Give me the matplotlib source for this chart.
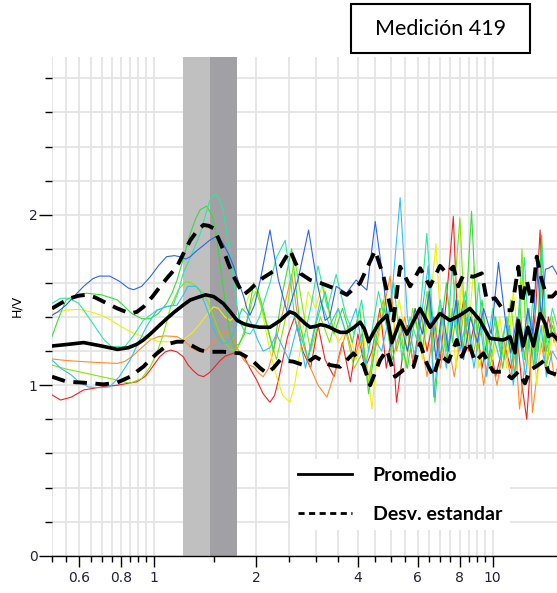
import numpy as np
import matplotlib.pyplot as plt
from matplotlib.ticker import NullFormatter
from matplotlib.patches import Rectangle
from matplotlib.lines import Line2D

# ---------------- datos (frecuencia Hz, H/V) ----------------
promedio = [(0.5, 1.23), (0.56, 1.24), (0.62, 1.25), (0.7, 1.23), (0.78, 1.21), (0.84, 1.22),
            (0.89, 1.24), (0.93, 1.265), (0.975, 1.30), (1.03, 1.345), (1.09, 1.39), (1.15, 1.43),
            (1.22, 1.47), (1.28, 1.50), (1.37, 1.52), (1.42, 1.53), (1.50, 1.52), (1.55, 1.50),
            (1.60, 1.48), (1.68, 1.43), (1.76, 1.38), (1.84, 1.36), (1.92, 1.35), (2.05, 1.34),
            (2.2, 1.34), (2.28, 1.36), (2.36, 1.38), (2.45, 1.41), (2.52, 1.43), (2.6, 1.42),
            (2.7, 1.39), (2.8, 1.36), (2.89, 1.34), (3.0, 1.345), (3.1, 1.355), (3.2, 1.35),
            (3.3, 1.34), (3.45, 1.32), (3.55, 1.31), (3.7, 1.31), (3.9, 1.34), (4.06, 1.37),
            (4.18, 1.33), (4.3, 1.255), (4.45, 1.31), (4.6, 1.36), (4.87, 1.41), (5.04, 1.25),
            (5.33, 1.38), (5.58, 1.30), (6.1, 1.45), (6.53, 1.34), (6.99, 1.42), (7.48, 1.38),
            (8.0, 1.41), (8.57, 1.45), (9.17, 1.38), (9.8, 1.275), (10.75, 1.265), (11.25, 1.285),
            (11.64, 1.19), (11.9, 1.38), (12.3, 1.23), (12.7, 1.34), (13.2, 1.23), (13.8, 1.42),
            (14.3, 1.36), (14.6, 1.285), (15.0, 1.30), (15.5, 1.27)]

desv_sup = [(0.5, 1.45), (0.53, 1.48), (0.566, 1.51), (0.6, 1.525), (0.634, 1.53), (0.67, 1.515),
            (0.71, 1.49), (0.78, 1.45), (0.851, 1.42), (0.89, 1.43), (0.932, 1.46), (0.99, 1.52),
            (1.044, 1.58), (1.1, 1.635), (1.169, 1.695), (1.22, 1.77), (1.28, 1.85), (1.34, 1.905),
            (1.40, 1.94), (1.45, 1.935), (1.50, 1.92), (1.55, 1.86), (1.605, 1.79), (1.66, 1.71),
            (1.717, 1.64), (1.78, 1.58), (1.838, 1.53), (1.92, 1.56), (2.013, 1.60), (2.1, 1.63),
            (2.203, 1.656), (2.358, 1.695), (2.45, 1.75), (2.525, 1.79), (2.6, 1.73), (2.702, 1.656),
            (2.892, 1.617), (3.095, 1.60), (3.388, 1.57), (3.71, 1.53), (4.061, 1.60), (4.496, 1.79),
            (4.757, 1.64), (5.092, 1.38), (5.328, 1.695), (5.702, 1.58), (6.104, 1.686), (6.531, 1.58),
            (6.99, 1.70), (7.316, 1.656), (7.652, 1.695), (7.915, 1.58), (8.188, 1.646), (8.767, 1.636),
            (9.281, 1.656), (9.601, 1.50), (10.16, 1.51), (10.75, 1.44), (11.38, 1.44), (11.9, 1.695),
            (12.18, 1.48), (12.6, 1.617), (13.03, 1.48), (13.49, 1.754), (13.95, 1.617), (14.43, 1.52),
            (15.0, 1.52), (15.5, 1.55)]

desv_inf = [(0.5, 1.05), (0.554, 1.02), (0.62, 1.015), (0.71, 1.005), (0.778, 1.015), (0.851, 1.05),
            (0.89, 1.08), (0.932, 1.11), (0.975, 1.15), (1.021, 1.187), (1.07, 1.22), (1.117, 1.245),
            (1.17, 1.255), (1.223, 1.255), (1.3, 1.23), (1.369, 1.206), (1.434, 1.196), (1.605, 1.196),
            (1.797, 1.187), (1.88, 1.165), (1.967, 1.138), (2.06, 1.10), (2.154, 1.07), (2.25, 1.10),
            (2.358, 1.148), (2.581, 1.138), (2.763, 1.118), (2.991, 1.167), (3.313, 1.118),
            (3.545, 1.108), (3.88, 1.187), (4.153, 1.118), (4.346, 1.00), (4.652, 1.148), (4.868, 1.206),
            (5.15, 1.05), (5.449, 1.089), (5.833, 1.108), (6.104, 1.245), (6.389, 1.128), (6.682, 1.05),
            (6.99, 1.177), (7.396, 1.138), (7.831, 1.265), (8.101, 1.167), (8.472, 1.255), (8.867, 1.138),
            (9.382, 1.187), (10.04, 1.079), (10.75, 1.079), (11.38, 1.04), (11.9, 1.079), (12.45, 1.011),
            (12.9, 1.089), (13.63, 1.118), (14.27, 1.148), (14.59, 1.079), (15.0, 1.07), (15.5, 1.06)]

v_rojo = [(0.5, 0.943), (0.53, 0.913), (0.57, 0.93), (0.62, 0.972), (0.7, 0.99), (0.78, 1.00),
          (0.89, 1.02), (0.94, 1.05), (0.975, 1.089), (1.04, 1.167), (1.08, 1.195), (1.12, 1.206),
          (1.17, 1.195), (1.22, 1.167), (1.26, 1.12), (1.30, 1.089), (1.35, 1.06), (1.40, 1.05),
          (1.45, 1.07), (1.50, 1.10), (1.56, 1.14), (1.62, 1.17), (1.73, 1.19), (1.79, 1.185),
          (1.84, 1.17), (1.92, 1.10), (2.01, 1.03), (2.1, 0.95), (2.20, 0.90), (2.27, 0.94),
          (2.33, 1.03), (2.4, 1.15), (2.48, 1.285), (2.6, 1.40), (2.75, 1.20), (2.9, 1.10), (3.05, 1.35),
          (3.2, 1.15), (3.4, 1.05), (3.6, 1.25), (3.8, 1.02), (4.0, 1.30), (4.2, 1.10), (4.4, 1.20),
          (4.65, 1.45), (4.85, 1.10), (5.05, 1.30), (5.2, 0.90), (5.4, 1.15), (5.6, 1.35), (5.85, 1.10),
          (6.1, 1.45), (6.4, 1.20), (6.7, 1.40), (7.0, 1.15), (7.3, 1.50), (7.65, 1.99), (7.9, 1.30),
          (8.2, 1.50), (8.5, 1.20), (8.9, 1.40), (9.3, 1.10), (9.7, 1.30), (10.2, 1.05), (10.8, 1.25),
          (11.3, 1.10), (11.8, 1.30), (12.2, 1.00), (12.6, 0.80), (13.0, 1.20), (13.4, 1.45),
          (13.8, 1.91), (14.2, 1.20), (14.6, 1.40), (15.2, 1.25), (15.5, 1.30)]

v_naranja = [(0.5, 1.154), (0.55, 1.145), (0.62, 1.138), (0.7, 1.132), (0.78, 1.128), (0.82, 1.14),
             (0.86, 1.167), (0.92, 1.22), (0.975, 1.265), (1.03, 1.285), (1.08, 1.289), (1.17, 1.285),
             (1.23, 1.26), (1.28, 1.226), (1.33, 1.205), (1.37, 1.196), (1.41, 1.20), (1.45, 1.22),
             (1.52, 1.27), (1.56, 1.30), (1.60, 1.314), (1.66, 1.30), (1.72, 1.265), (1.78, 1.20),
             (1.84, 1.148), (1.9, 1.12), (1.97, 1.108), (2.04, 1.07), (2.1, 1.05), (2.18, 1.10),
             (2.25, 1.20), (2.45, 1.50), (2.55, 1.65), (2.7, 1.30), (2.9, 1.10), (3.05, 1.00),
             (3.24, 0.93), (3.45, 1.10), (3.7, 1.32), (3.9, 1.15), (4.1, 1.30), (4.3, 1.05), (4.55, 1.25),
             (4.98, 1.64), (5.2, 1.20), (5.5, 1.40), (5.8, 1.15), (6.1, 1.30), (6.4, 1.05), (6.7, 1.35),
             (7.0, 1.10), (7.3, 1.30), (7.7, 1.05), (8.0, 1.25), (8.3, 1.50), (8.7, 1.15), (9.0, 1.30),
             (9.4, 1.00), (9.8, 1.20), (10.3, 1.00), (10.8, 1.25), (11.3, 1.05), (11.7, 1.20),
             (12.0, 0.86), (12.4, 1.10), (12.8, 1.30), (13.1, 0.84), (13.5, 1.05), (13.9, 1.25),
             (14.3, 1.10), (14.8, 1.20), (15.2, 1.05), (15.5, 1.10)]

v_amarillo = [(0.5, 1.42), (0.55, 1.44), (0.6, 1.445), (0.65, 1.43), (0.7, 1.41), (0.75, 1.38),
              (0.8, 1.343), (0.86, 1.31), (0.93, 1.285), (1.04, 1.255), (1.12, 1.255), (1.22, 1.265),
              (1.30, 1.31), (1.37, 1.363), (1.44, 1.42), (1.50, 1.46), (1.55, 1.45), (1.62, 1.40),
              (1.68, 1.38), (1.76, 1.41), (1.85, 1.45), (1.91, 1.53), (1.97, 1.60), (2.04, 1.52),
              (2.1, 1.40), (2.2, 1.20), (2.3, 1.05), (2.4, 0.94), (2.52, 0.90), (2.6, 1.00), (2.7, 1.20),
              (2.85, 1.55), (3.0, 1.45), (3.15, 1.60), (3.3, 1.40), (3.5, 1.25), (3.75, 1.35), (3.95, 1.15),
              (4.15, 1.30), (4.4, 0.86), (4.6, 1.25), (4.8, 1.55), (5.0, 1.25), (5.3, 1.50), (5.6, 1.20),
              (5.9, 1.45), (6.2, 1.15), (6.55, 1.50), (6.8, 1.83), (7.1, 1.20), (7.5, 1.45), (7.8, 1.10),
              (8.1, 1.60), (8.4, 1.20), (8.8, 1.70), (9.1, 1.10), (9.6, 1.30), (10.0, 1.15), (10.5, 1.40),
              (11.0, 1.10), (11.5, 1.55), (12.0, 1.20), (12.3, 1.70), (12.7, 1.10), (13.1, 1.30),
              (13.5, 1.00), (14.0, 1.35), (14.5, 1.15), (15.0, 1.30), (15.5, 1.20)]

v_lima = [(0.5, 1.118), (0.55, 1.095), (0.62, 1.073), (0.7, 1.05), (0.78, 1.03), (0.85, 1.011),
          (0.92, 1.04), (0.975, 1.108), (1.02, 1.19), (1.06, 1.285), (1.09, 1.37), (1.12, 1.46),
          (1.18, 1.56), (1.24, 1.607), (1.29, 1.60), (1.33, 1.58), (1.40, 1.54), (1.45, 1.48),
          (1.50, 1.40), (1.56, 1.31), (1.62, 1.25), (1.68, 1.21), (1.75, 1.20), (1.82, 1.28),
          (1.9, 1.40), (1.95, 1.50), (2.0, 1.55), (2.07, 1.47), (2.15, 1.35), (2.3, 1.15), (2.45, 1.40),
          (2.6, 1.75), (2.75, 1.45), (2.9, 1.20), (3.1, 1.40), (3.3, 1.25), (3.5, 1.45), (3.7, 1.30),
          (3.9, 1.10), (4.15, 1.20), (4.3, 1.00), (4.5, 1.30), (4.75, 1.50), (5.0, 1.20), (5.3, 1.40),
          (5.55, 1.10), (5.8, 1.45), (6.1, 1.25), (6.4, 1.55), (6.7, 1.20), (7.0, 1.50), (7.3, 1.15),
          (7.6, 1.40), (8.0, 1.98), (8.3, 1.30), (8.6, 1.45), (9.0, 1.20), (9.4, 1.40), (9.8, 1.10),
          (10.3, 1.35), (10.8, 1.15), (11.3, 1.50), (11.8, 1.10), (12.2, 1.80), (12.6, 1.20),
          (13.0, 1.40), (13.4, 1.15), (13.9, 1.60), (14.4, 1.10), (15.0, 1.40), (15.5, 1.25)]

v_verde = [(0.5, 1.285), (0.52, 1.38), (0.55, 1.50), (0.59, 1.53), (0.63, 1.54), (0.7, 1.53),
           (0.78, 1.50), (0.82, 1.46), (0.86, 1.42), (0.92, 1.39), (0.975, 1.39), (1.03, 1.42),
           (1.09, 1.48), (1.13, 1.54), (1.17, 1.617), (1.22, 1.74), (1.28, 1.89), (1.33, 1.98),
           (1.37, 2.03), (1.43, 2.05), (1.48, 2.00), (1.52, 1.91), (1.57, 1.70), (1.63, 1.46),
           (1.67, 1.32), (1.72, 1.226), (1.78, 1.24), (1.85, 1.30), (1.91, 1.45), (1.97, 1.60),
           (2.03, 1.55), (2.1, 1.45), (2.25, 1.20), (2.4, 1.55), (2.55, 1.80), (2.7, 1.35), (2.85, 1.15),
           (3.0, 1.35), (3.2, 1.55), (3.4, 1.30), (3.6, 1.45), (3.85, 1.25), (4.05, 1.45), (4.3, 0.95),
           (4.55, 1.30), (4.8, 1.45), (5.05, 1.15), (5.3, 1.30), (5.6, 1.10), (5.9, 1.40), (6.2, 1.20),
           (6.5, 1.55), (6.75, 0.90), (7.0, 1.30), (7.3, 1.60), (7.6, 1.25), (7.9, 1.50), (8.2, 1.20),
           (8.66, 2.02), (9.0, 1.30), (9.3, 1.50), (9.7, 1.15), (10.2, 1.40), (10.7, 1.10), (11.2, 1.35),
           (11.6, 1.05), (12.0, 1.50), (12.4, 1.15), (12.8, 1.45), (13.2, 1.10), (13.6, 1.35),
           (13.95, 1.88), (14.4, 1.20), (15.0, 1.35), (15.5, 1.25)]

v_turquesa = [(0.5, 1.48), (0.53, 1.51), (0.56, 1.51), (0.6, 1.48), (0.63, 1.42), (0.67, 1.343),
              (0.71, 1.27), (0.75, 1.226), (0.82, 1.226), (0.87, 1.29), (0.93, 1.38), (1.02, 1.44),
              (1.08, 1.46), (1.14, 1.47), (1.18, 1.55), (1.22, 1.656), (1.3, 1.78), (1.37, 1.89),
              (1.42, 2.00), (1.46, 2.08), (1.51, 2.125), (1.55, 2.10), (1.60, 2.03), (1.66, 1.83),
              (1.72, 1.617), (1.76, 1.46), (1.80, 1.363), (1.86, 1.31), (1.92, 1.30), (1.98, 1.34),
              (2.05, 1.40), (2.12, 1.50), (2.2, 1.60), (2.3, 1.75), (2.44, 1.85), (2.52, 1.65), (2.6, 1.40),
              (2.75, 1.25), (2.9, 1.45), (3.05, 1.70), (3.25, 1.45), (3.45, 1.65), (3.7, 1.40), (3.9, 1.30),
              (4.1, 1.50), (4.3, 1.20), (4.6, 1.55), (4.85, 1.35), (5.1, 1.60), (5.4, 1.15), (5.7, 1.40),
              (6.0, 1.25), (6.39, 1.89), (6.7, 1.30), (7.0, 1.50), (7.3, 1.20), (7.6, 1.70), (7.9, 1.25),
              (8.3, 1.55), (8.7, 1.20), (9.1, 1.60), (9.5, 1.15), (10.0, 1.45), (10.5, 1.20), (11.0, 1.40),
              (11.5, 1.15), (12.0, 1.45), (12.4, 1.75), (12.8, 1.25), (13.2, 1.55), (13.6, 1.20),
              (14.0, 1.80), (14.4, 1.25), (15.0, 1.45), (15.5, 1.35)]

v_celeste = [(0.5, 1.148), (0.53, 1.10), (0.57, 1.06), (0.6, 1.02), (0.64, 0.99), (0.69, 0.985),
             (0.74, 0.99), (0.79, 1.05), (0.85, 1.148), (0.9, 1.25), (0.95, 1.343), (1.02, 1.44),
             (1.09, 1.46), (1.17, 1.47), (1.22, 1.53), (1.26, 1.58), (1.33, 1.58), (1.37, 1.55),
             (1.40, 1.50), (1.45, 1.42), (1.49, 1.343), (1.54, 1.28), (1.59, 1.245), (1.65, 1.25),
             (1.70, 1.285), (1.76, 1.37), (1.82, 1.45), (1.88, 1.42), (1.95, 1.35), (2.02, 1.27),
             (2.1, 1.20), (2.2, 1.22), (2.3, 1.30), (2.5, 1.15), (2.65, 1.35), (2.8, 1.10), (2.95, 1.30),
             (3.1, 1.50), (3.3, 1.35), (3.5, 1.45), (3.7, 1.30), (3.95, 1.45), (4.2, 1.10), (4.4, 1.30),
             (4.7, 1.20), (5.0, 1.45), (5.33, 2.10), (5.6, 1.40), (5.9, 1.15), (6.2, 1.45), (6.45, 1.70),
             (6.7, 0.93), (7.0, 1.30), (7.3, 1.10), (7.6, 1.45), (8.0, 1.20), (8.4, 1.40), (8.8, 1.10),
             (9.2, 1.35), (9.6, 1.05), (10.0, 1.30), (10.5, 1.15), (11.0, 1.40), (11.5, 1.00),
             (12.0, 1.30), (12.5, 1.05), (13.0, 1.40), (13.4, 1.10), (13.9, 1.35), (14.4, 1.05),
             (15.0, 1.20), (15.5, 1.15)]

v_azul = [(0.5, 1.41), (0.52, 1.43), (0.55, 1.47), (0.58, 1.52), (0.62, 1.58), (0.66, 1.625),
          (0.69, 1.64), (0.74, 1.64), (0.79, 1.61), (0.84, 1.57), (0.87, 1.56), (0.92, 1.58),
          (0.975, 1.636), (1.03, 1.70), (1.09, 1.754), (1.15, 1.76), (1.19, 1.754), (1.24, 1.74),
          (1.28, 1.754), (1.34, 1.79), (1.40, 1.82), (1.46, 1.85), (1.52, 1.87), (1.56, 1.86),
          (1.60, 1.83), (1.66, 1.77), (1.72, 1.695), (1.78, 1.60), (1.84, 1.52), (1.88, 1.45),
          (1.92, 1.41), (1.98, 1.47), (2.06, 1.617), (2.2, 1.91), (2.33, 1.617), (2.48, 1.42),
          (2.66, 1.617), (2.86, 1.91), (3.02, 1.617), (3.2, 1.38), (3.3, 1.40), (3.45, 1.58), (3.7, 1.54),
          (3.95, 1.617), (4.25, 1.558), (4.5, 1.96), (4.75, 1.617), (5.0, 1.226), (5.33, 1.38),
          (5.6, 1.20), (5.9, 1.45), (6.2, 1.30), (6.5, 1.55), (6.8, 1.15), (7.1, 1.45), (7.4, 1.20),
          (7.8, 1.50), (8.2, 1.15), (8.6, 1.40), (9.0, 1.25), (9.4, 1.45), (9.9, 1.30), (10.4, 1.72),
          (10.9, 1.38), (11.3, 1.19), (11.8, 1.40), (12.2, 1.20), (12.7, 1.45), (13.1, 1.30),
          (13.5, 1.73), (13.9, 1.40), (14.3, 1.68), (14.6, 1.686), (15.0, 1.70), (15.5, 1.65)]

ventanas = [v_rojo, v_naranja, v_amarillo, v_lima, v_verde, v_turquesa, v_celeste, v_azul]
colores = ['#f42020', '#ff8c28', '#f0f000', '#80e800', '#38dc38', '#28e8a0', '#30c0f4', '#2c64f0']

f0_min, f0, f0_max = 1.214, 1.463, 1.761

ticks_may = [0.6, 0.8, 1, 2, 4, 6, 8, 10]
etiquetas_may = ['0.6', '0.8', '1', '2', '4', '6', '8', '10']
ticks_men = [0.5, 0.55, 0.65, 0.7, 0.75, 0.85, 0.9, 0.95, 1.5, 2.5, 3, 3.5, 4.5, 5, 5.5,
             6.5, 7, 7.5, 8.5, 9, 9.5]

# ---------------- figura ----------------
fig = plt.figure(figsize=(5.57, 5.93), dpi=100)
ax = fig.add_axes([52 / 557, 37.3 / 593, 505 / 557, 498.7 / 593])

ax.axvspan(f0_min, f0, color='#c0c0c0', lw=0, zorder=1)
ax.axvspan(f0, f0_max, color='#a1a1a5', lw=0, zorder=1)

for curva, c in zip(ventanas, colores):
    f, hv = zip(*curva)
    ax.plot(f, hv, color=c, lw=0.8, zorder=2)

f, hv = zip(*promedio)
ax.plot(f, hv, color='black', lw=2.6, zorder=4)
for curva in [desv_sup, desv_inf]:
    f, hv = zip(*curva)
    ax.plot(f, hv, color='black', lw=2.8, ls=(0, (3.5, 2.2)), zorder=3)

ax.set_xscale('log')
ax.set_xlim(0.5, 15.48)
ax.set_ylim(0, 2.925)

ax.set_xticks(ticks_may, labels=etiquetas_may)
ax.set_xticks(ticks_men, minor=True)
ax.xaxis.set_minor_formatter(NullFormatter())
ax.set_yticks([0, 1, 2])
ax.set_yticks(np.arange(0.2, 2.9, 0.2), minor=True)

ax.tick_params(axis='x', which='major', length=8, width=1, labelsize=10, pad=3, colors='black',
               labelcolor='#202040')
ax.tick_params(axis='x', which='minor', length=4.5, width=1)
ax.tick_params(axis='y', which='major', length=9.5, width=1, labelsize=10, pad=1,
               labelcolor='#202040')
ax.tick_params(axis='y', which='minor', length=4.7, width=1)

for s in ['top', 'right', 'left']:
    ax.spines[s].set_visible(False)
ax.spines['bottom'].set_linewidth(1)

ax.set_axisbelow(True)
ax.grid(True, which='both', color='#e4e4e4', lw=1.3)

ax.set_ylabel('H/V', fontsize=9, labelpad=4)

# leyenda
manijas = [Line2D([], [], color='black', lw=2),
           Line2D([], [], color='black', lw=2, ls=(0, (2.2, 1.6)))]
ax.legend(manijas, ['Promedio', 'Desv. estandar'], loc='upper left',
          bbox_to_anchor=(290 / 557, 1 - 459 / 593), bbox_transform=fig.transFigure,
          frameon=True, facecolor='white', edgecolor='none', framealpha=1, fancybox=False,
          prop={'family': 'Lato', 'weight': 'bold', 'size': 14},
          handlelength=2.8, handletextpad=1.05, labelspacing=1.12, borderpad=0.4, borderaxespad=0)

# titulo en recuadro
fig.patches.append(Rectangle((350.7 / 557, 1 - 53.3 / 593), 179 / 557, 49 / 593,
                             transform=fig.transFigure, fill=False, ec='black', lw=1.5))
fig.text(440.4 / 557, 1 - 29 / 593, 'Medición 419', ha='center', va='center',
         fontsize=15.5, family='Lato')

plt.savefig('out.png', dpi=100)
